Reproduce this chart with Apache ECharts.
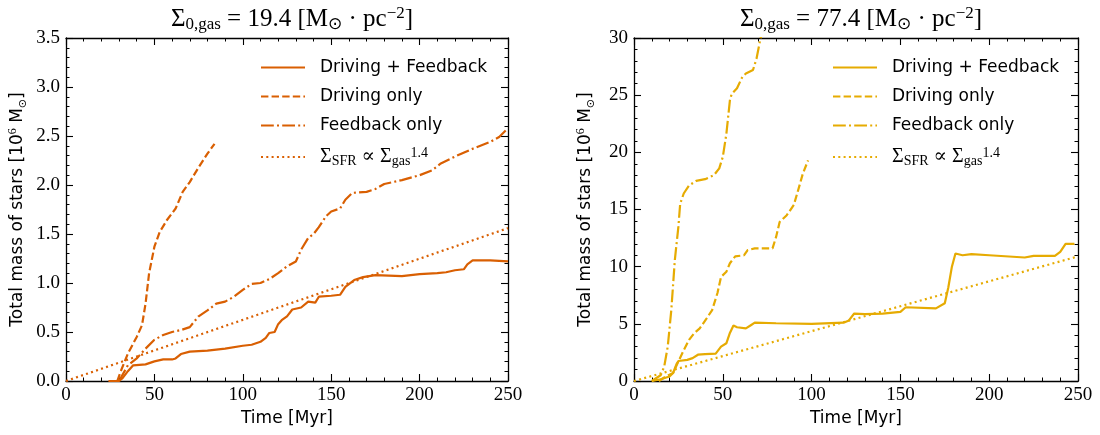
<!DOCTYPE html>
<html>
<head>
<meta charset="utf-8">
<script src="https://cdn.jsdelivr.net/npm/echarts@6/dist/echarts.min.js"></script>
<style>html,body{margin:0;padding:0;background:#fff}#c{width:1100px;height:435px}</style>
</head>
<body>
<div id="c"></div>
<script>
// ---- Data ----
const colorLeft = '#d95f02';
const colorRight = '#e6ab02';

// Left panel: Sigma_0,gas = 19.4
const tL_both = [24, 30, 32, 35, 38, 45, 50, 55, 60, 62, 65, 70, 80, 90, 100, 105, 110, 113, 115, 118, 120, 122, 125, 128, 133, 137, 141, 143, 150, 155, 158, 163, 168, 175, 190, 200, 210, 215, 220, 225, 227, 230, 240, 250];
const mL_both = [0, 0, 0.03, 0.1, 0.16, 0.17, 0.2, 0.22, 0.22, 0.23, 0.275, 0.3, 0.31, 0.33, 0.36, 0.37, 0.40, 0.44, 0.49, 0.5, 0.58, 0.62, 0.66, 0.73, 0.75, 0.81, 0.80, 0.86, 0.87, 0.88, 0.96, 1.03, 1.06, 1.08, 1.07, 1.09, 1.1, 1.11, 1.13, 1.14, 1.19, 1.23, 1.23, 1.22];
const tL_drive = [29, 31, 35, 40, 43, 45, 47, 50, 53, 57, 62, 66, 70, 75, 80, 84];
const mL_drive = [0, 0.1, 0.28, 0.45, 0.57, 0.79, 1.1, 1.37, 1.52, 1.64, 1.76, 1.93, 2.03, 2.18, 2.32, 2.42];
const tL_fb = [30, 35, 40, 45, 50, 55, 60, 65, 70, 75, 80, 85, 90, 95, 100, 105, 110, 115, 120, 125, 130, 133, 137, 140, 143, 147, 150, 155, 158, 162, 170, 175, 180, 190, 200, 207, 212, 220, 230, 240, 245, 250];
const mL_fb = [0, 0.16, 0.23, 0.33, 0.42, 0.47, 0.5, 0.52, 0.55, 0.66, 0.72, 0.79, 0.81, 0.86, 0.93, 0.99, 1.0, 1.04, 1.1, 1.17, 1.22, 1.34, 1.46, 1.5, 1.57, 1.68, 1.73, 1.76, 1.85, 1.92, 1.93, 1.96, 2.01, 2.05, 2.1, 2.15, 2.22, 2.29, 2.37, 2.44, 2.49, 2.58];
const tL_ks = [0, 250];
const mL_ks = [0, 1.56];

// Right panel: Sigma_0,gas = 77.4
const tR_both = [10, 15, 20, 22, 24, 25, 30, 33, 36, 40, 46, 49, 52, 54, 56, 58, 63, 66, 68, 80, 100, 118, 121, 124, 130, 140, 150, 153, 170, 175, 177, 179, 181, 185, 190, 200, 220, 225, 237, 240, 243, 248];
const mR_both = [0, 0.15, 0.4, 0.7, 1.5, 1.75, 1.85, 2.0, 2.3, 2.35, 2.4, 3.0, 3.3, 4.2, 4.85, 4.7, 4.6, 4.9, 5.1, 5.05, 5.0, 5.1, 5.3, 5.9, 5.85, 5.9, 6.05, 6.45, 6.35, 6.8, 8.2, 10.0, 11.15, 11.0, 11.1, 11.0, 10.8, 10.95, 10.95, 11.3, 12.0, 12.0];
const tR_drive = [14, 18, 22, 25, 28, 31, 34, 37, 41, 44, 47, 49, 52, 54, 57, 62, 64, 68, 78, 80, 82, 86, 90, 93, 95, 98];
const mR_drive = [0, 0.4, 0.7, 1.7, 2.7, 3.6, 4.2, 4.6, 5.5, 6.2, 7.7, 9.1, 9.55, 10.3, 10.9, 11.0, 11.45, 11.6, 11.6, 12.6, 13.9, 14.5, 15.4, 17.0, 18.1, 19.3];
const tR_fb = [10, 15, 17, 19, 21, 23, 25, 26, 28, 31, 35, 40, 45, 48, 50, 52, 54, 55, 58, 61, 63, 67, 69, 71, 72];
const mR_fb = [0, 0.5, 1.25, 3.0, 6.2, 10.6, 13.5, 15.5, 16.4, 17.1, 17.5, 17.65, 18.0, 18.6, 19.6, 21.6, 24.55, 25.1, 25.6, 26.6, 26.9, 27.2, 28.2, 29.8, 30.4];
const tR_ks = [0, 250];
const mR_ks = [0, 10.9];

const legendLabels = ['Driving + Feedback', 'Driving only', 'Feedback only', 'KS'];
const xTicksMax = 250;
const yMaxLeft = 3.5, yIntLeft = 0.5;
const yMaxRight = 30, yIntRight = 5;

// ---- Build ----
const zip = (t, m) => t.map((x, i) => [x, m[i]]);
const serif = '"Liberation Serif","DejaVu Serif",serif';
const sans = '"DejaVu Sans",sans-serif';

const dashStyles = ['solid', [7.4, 3.2], [12.8, 3.2, 2, 3.2], [2, 3.3]];

function mkSeries(prefix, idx, color, sets) {
  return sets.map((s, k) => ({
    type: 'line', name: prefix + k, xAxisIndex: idx, yAxisIndex: idx,
    data: zip(s[0], s[1]), symbol: 'none', showSymbol: false, smooth: false,
    clip: true, animation: false, color: color,
    lineStyle: { width: 2.2, color: color, type: dashStyles[k], cap: 'butt' },
    z: 3
  }));
}

const grids = [
  { left: 66, right: 592, top: 38, bottom: 54 },
  { left: 634, right: 22, top: 38, bottom: 54 }
];

function xAxes(gi) {
  const common = {
    type: 'value', gridIndex: gi, min: 0, max: xTicksMax, interval: 50,
    axisLine: { show: true, onZero: false, lineStyle: { color: '#000', width: 1.3 } },
    axisTick: { show: true, inside: true, length: 7, lineStyle: { color: '#000', width: 1.1 } },
    minorTick: { show: true, splitNumber: 5, length: 3.5, lineStyle: { color: '#000', width: 1 } },
    splitLine: { show: false }
  };
  return [
    Object.assign({}, common, {
      position: 'bottom',
      axisLabel: { show: true, margin: 5, color: '#000', fontFamily: serif, fontSize: 19 },
      name: 'Time [Myr]', nameLocation: 'middle', nameGap: 29,
      nameTextStyle: { color: '#000', fontFamily: sans, fontSize: 17 }
    }),
    Object.assign({}, common, { position: 'top', axisLabel: { show: false } })
  ];
}

function yAxes(gi, max, interval, fmt, gap) {
  const common = {
    type: 'value', gridIndex: gi, min: 0, max: max, interval: interval,
    axisLine: { show: true, onZero: false, lineStyle: { color: '#000', width: 1.3 } },
    axisTick: { show: true, inside: true, length: 7, lineStyle: { color: '#000', width: 1.1 } },
    minorTick: { show: true, splitNumber: 5, length: 3.5, lineStyle: { color: '#000', width: 1 } },
    splitLine: { show: false }
  };
  return [
    Object.assign({}, common, {
      position: 'left',
      axisLabel: { show: true, margin: 6, color: '#000', fontFamily: serif, fontSize: 19, formatter: fmt },
      name: '{t|Total mass of stars [10}{sup|6}{t| M}{sub|⊙}{t|]}',
      nameLocation: 'middle', nameRotate: 90, nameGap: gap,
      nameTextStyle: {
        color: '#000', fontFamily: sans, fontSize: 17,
        rich: {
          t: { fontFamily: sans, fontSize: 17, lineHeight: 22, color: '#000' },
          sup: { fontFamily: serif, fontSize: 12, lineHeight: 11, verticalAlign: 'top', color: '#000' },
          sub: { fontFamily: 'DejaVu Sans', fontSize: 11, lineHeight: 11, verticalAlign: 'bottom', color: '#000' }
        }
      }
    }),
    Object.assign({}, common, { position: 'right', axisLabel: { show: false } })
  ];
}

const legendRich = {
  n: { fontFamily: sans, fontSize: 17, lineHeight: 22, color: '#000' },
  m: { fontFamily: serif, fontSize: 20, lineHeight: 22, color: '#000' },
  sub: { fontFamily: serif, fontSize: 14, lineHeight: 11, verticalAlign: 'bottom', color: '#000' },
  sup: { fontFamily: serif, fontSize: 14, lineHeight: 11, verticalAlign: 'top', color: '#000' }
};
function legendFmt(name) {
  const k = +name.slice(1);
  if (k === 3) return '{m|Σ}{sub|SFR}{m| ∝ Σ}{sub|gas}{sup|1.4}';
  return '{n|' + legendLabels[k] + '}';
}
function mkLegend(prefix, left) {
  return {
    data: [0, 1, 2, 3].map(k => prefix + k),
    orient: 'vertical', left: left, top: 54, itemWidth: 44, itemHeight: 14, itemGap: 12,
    selectedMode: false, formatter: legendFmt,
    itemStyle: { opacity: 0 },
    textStyle: { color: '#000', fontFamily: sans, fontSize: 17, rich: legendRich, padding: [0, 0, 0, 10] }
  };
}

function titleText(val) {
  return '{m|Σ}{sub|0,gas}{m| = ' + val + ' [M}{sub|⊙}{m| · pc}{sup|−2}{m|]}';
}
const titleRich = {
  m: { fontFamily: serif, fontSize: 25, fontWeight: 'normal', lineHeight: 28, color: '#000' },
  sub: { fontFamily: '"Liberation Serif","DejaVu Sans",serif', fontWeight: 'normal', fontSize: 17, lineHeight: 13, verticalAlign: 'bottom', color: '#000' },
  sup: { fontFamily: serif, fontSize: 17, fontWeight: 'normal', lineHeight: 13, verticalAlign: 'top', color: '#000' }
};

const option = {
  animation: false,
  backgroundColor: '#fff',
  title: [
    { text: titleText('19.4'), left: 287, top: 0, textAlign: 'center', textStyle: { fontWeight: 'normal', rich: titleRich } },
    { text: titleText('77.4'), left: 856, top: 0, textAlign: 'center', textStyle: { fontWeight: 'normal', rich: titleRich } }
  ],
  grid: grids,
  xAxis: [...xAxes(0), ...xAxes(1)],
  yAxis: [
    ...yAxes(0, yMaxLeft, yIntLeft, v => v.toFixed(1), 37),
    ...yAxes(1, yMaxRight, yIntRight, v => String(v), 37)
  ],
  legend: [mkLegend('L', 255), mkLegend('R', 827)],
  series: [
    ...mkSeries('L', 0, colorLeft, [[tL_both, mL_both], [tL_drive, mL_drive], [tL_fb, mL_fb], [tL_ks, mL_ks]]),
    ...mkSeries('R', 2, colorRight, [[tR_both, mR_both], [tR_drive, mR_drive], [tR_fb, mR_fb], [tR_ks, mR_ks]])
  ]
};
const chart = echarts.init(document.getElementById('c'), null, { renderer: 'canvas' });
chart.setOption(option);
</script>
</body>
</html>
